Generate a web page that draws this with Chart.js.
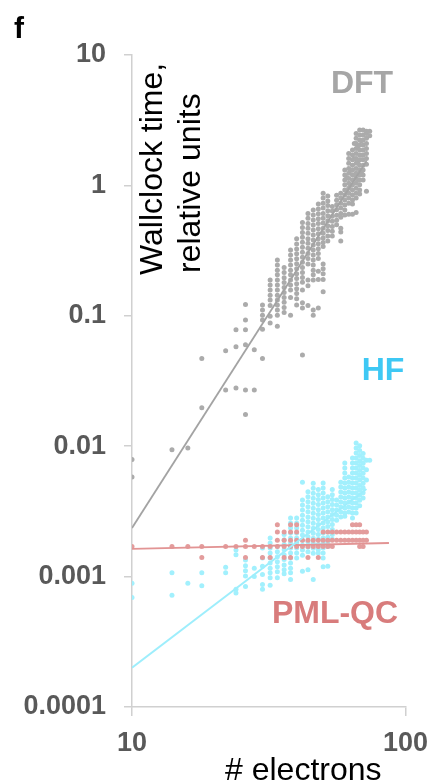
<!DOCTYPE html>
<html>
<head>
<meta charset="utf-8">
<script src="https://cdn.jsdelivr.net/npm/chart.js@4.4.1/dist/chart.umd.min.js"></script>
<style>
  html, body { margin: 0; padding: 0; background: #fff; }
  canvas { display: block; }
</style>
</head>
<body>
<canvas id="chart" width="439" height="784"></canvas>
<script>
// axis ticks
const xTicks = [10, 100]
const yTicks = [0.0001, 0.001, 0.01, 0.1, 1, 10]
const yTickLabels = ['0.0001', '0.001', '0.01', '0.1', '1', '10']

// DFT timings: [# electrons, [times...]]
const dftCols = [
  [10, [0.0079, 0.0058]],
  [14, [0.0094]],
  [16, [0.0097]],
  [18, [0.047, 0.0197]],
  [22, [0.054, 0.027]],
  [24, [0.078, 0.058, 0.028]],
  [26, [0.122, 0.093, 0.078, 0.060, 0.027, 0.0175]],
  [28, [0.055, 0.027]],
  [30, [0.121, 0.111, 0.101, 0.093, 0.079, 0.047]],
  [32, [0.188, 0.172, 0.158, 0.144, 0.132, 0.12, 0.099, 0.088]],
  [34, [0.268, 0.245, 0.224, 0.206, 0.188, 0.172, 0.158, 0.144, 0.132, 0.121, 0.111, 0.101, 0.083]],
  [36, [0.235, 0.215, 0.196, 0.18, 0.165, 0.151, 0.138, 0.127, 0.116, 0.106]],
  [38, [0.32, 0.292, 0.268, 0.245, 0.224, 0.206, 0.188, 0.172, 0.158, 0.138, 0.101]],
  [40, [0.389, 0.356, 0.326, 0.299, 0.274, 0.251, 0.23, 0.21, 0.193, 0.176, 0.161, 0.148, 0.135, 0.121]],
  [42, [0.52, 0.475, 0.435, 0.4, 0.366, 0.335, 0.307, 0.281, 0.257, 0.235, 0.215, 0.197, 0.181, 0.158, 0.126, 0.115, 0.05]],
  [44, [0.61, 0.56, 0.51, 0.47, 0.43, 0.39, 0.36, 0.33, 0.30, 0.275, 0.25, 0.188, 0.17, 0.12]],
  [46, [0.648, 0.593, 0.543, 0.497, 0.455, 0.417, 0.381, 0.349, 0.32, 0.292, 0.268, 0.245, 0.224, 0.206, 0.188, 0.111, 0.101]],
  [48, [0.72, 0.66, 0.605, 0.555, 0.51, 0.465, 0.425, 0.39, 0.357, 0.327, 0.30, 0.275, 0.22, 0.19, 0.115]],
  [50, [0.87, 0.80, 0.73, 0.67, 0.61, 0.56, 0.515, 0.47, 0.43, 0.395, 0.365, 0.34, 0.25, 0.23, 0.21, 0.19, 0.153]],
  [52, [0.83, 0.76, 0.70, 0.64, 0.585, 0.535, 0.49, 0.45, 0.41, 0.375]],
  [54, [0.69, 0.635, 0.58, 0.53, 0.485, 0.445, 0.41]],
  [56, [0.84, 0.77, 0.71, 0.65, 0.59, 0.54, 0.5]],
  [58, [0.87, 0.80, 0.73, 0.67, 0.61, 0.57, 0.47, 0.44, 0.375]],
  [60, [1.31, 1.2, 1.1, 1.01, 0.92, 0.844, 0.773, 0.707, 0.648, 0.593]],
  [61, [1.15, 0.9]],
  [62, [1.76, 1.61, 1.48, 1.35, 1.24, 1.13, 1.04, 0.95, 0.87, 0.8, 0.73, 0.6]],
  [63, [1.3, 1.0]],
  [64, [1.87, 1.71, 1.57, 1.43, 1.31, 1.2, 1.1, 1.01, 0.92, 0.844, 0.773, 0.72, 0.6]],
  [65, [2.1, 1.6, 1.2]],
  [66, [2.5, 2.3, 2.1, 1.92, 1.76, 1.61, 1.48, 1.35, 1.24, 1.13, 1.04, 0.95, 0.87, 0.8, 0.62]],
  [67, [2.0, 1.5, 1.1]],
  [68, [2.66, 2.44, 2.23, 2.04, 1.87, 1.71, 1.57, 1.43, 1.31, 1.2, 1.1, 1.01, 0.922, 0.86]],
  [69, [2.2, 1.7, 1.25]],
  [70, [2.66, 2.44, 2.23, 2.04, 1.87, 1.71, 1.57, 1.43, 1.31, 1.2, 1.1]],
  [72, [2.6, 2.5, 2.3, 2.1, 1.92, 1.76, 1.61, 1.45, 0.9]],
  [74, [2.6, 2.4]],
]

// HF timings
const hfCols = [
  [10, [0.00089, 0.00069]],
  [14, [0.00107, 0.00072]],
  [16, [0.00089]],
  [18, [0.00107, 0.00085]],
  [22, [0.00118, 0.00107]],
  [24, [0.0016, 0.00147, 0.0008, 0.00075]],
  [26, [0.00134, 0.00121, 0.00111, 0.00101, 0.00084]],
  [28, [0.00116, 0.001]],
  [30, [0.00166, 0.00139, 0.0012, 0.00104, 0.00087, 0.0008]],
  [32, [0.00198, 0.00181, 0.00166, 0.00152, 0.00139, 0.00127, 0.00116, 0.00107, 0.00098, 0.00086]],
  [34, [0.0017, 0.00155, 0.00142, 0.0013, 0.00119, 0.00109, 0.00098]],
  [36, [0.0021, 0.00192, 0.00176, 0.00161, 0.00147, 0.00135, 0.00123, 0.00113, 0.00105]],
  [38, [0.00281, 0.00258, 0.00236, 0.00216, 0.00198, 0.00181, 0.00166, 0.00152, 0.00139, 0.00127, 0.00116, 0.00107, 0.00095]],
  [40, [0.00281, 0.00258, 0.00236, 0.00216, 0.00198, 0.00181, 0.00166, 0.00152, 0.00139]],
  [42, [0.0053, 0.00386, 0.00354, 0.00324, 0.00296, 0.00271, 0.00248, 0.00227, 0.00208, 0.0019, 0.00174, 0.0016, 0.00146, 0.0011]],
  [44, [0.00448, 0.0041, 0.00375, 0.00343, 0.00314, 0.00287, 0.00263, 0.00241, 0.0022, 0.00202, 0.00185, 0.00169, 0.00155, 0.00113]],
  [46, [0.0052, 0.00476, 0.00436, 0.00399, 0.00365, 0.00334, 0.00306, 0.0028, 0.00256, 0.00235, 0.00215, 0.00197, 0.0018, 0.00165, 0.00151, 0.00095]],
  [48, [0.00465, 0.00425, 0.0039, 0.00357, 0.00326, 0.00299, 0.00274, 0.00251, 0.0023, 0.0021, 0.00193, 0.00176, 0.00161, 0.00152]],
  [50, [0.00522, 0.00478, 0.00438, 0.00401, 0.00367, 0.00336, 0.00307, 0.00281, 0.00258, 0.00236, 0.00216, 0.00198, 0.00181, 0.00166, 0.00152, 0.00139, 0.00119]],
  [52, [0.0041, 0.00375, 0.00343, 0.00314, 0.00287, 0.00263, 0.00242, 0.0022, 0.002, 0.00185, 0.0017, 0.0012]],
  [54, [0.00465, 0.00425, 0.0039, 0.00357, 0.00326, 0.00299, 0.00274, 0.00251, 0.0023, 0.0021, 0.00193]],
  [56, [0.00386, 0.00354, 0.00324, 0.00296, 0.00271]],
  [58, [0.0053, 0.00486, 0.00445, 0.00407, 0.00373, 0.00342, 0.00313, 0.00286]],
  [60, [0.00743, 0.00681, 0.00623, 0.0057, 0.00522, 0.00478, 0.00438, 0.00401, 0.00367, 0.00336, 0.00307, 0.0029]],
  [62, [0.0058, 0.0053, 0.00486, 0.00445, 0.00407, 0.00373, 0.00342, 0.00313]],
  [64, [0.00812, 0.00743, 0.00681, 0.00623, 0.0057, 0.00522, 0.00478, 0.00438, 0.00401, 0.00367, 0.00336, 0.00307, 0.00281]],
  [66, [0.0106, 0.00968, 0.00887, 0.00812, 0.00743, 0.00681, 0.00623, 0.0057, 0.00522, 0.00478, 0.00438, 0.00401, 0.00367, 0.00336, 0.00307]],
  [68, [0.0101, 0.00925, 0.0085, 0.00775, 0.0071, 0.0065, 0.006, 0.0055, 0.005, 0.0046, 0.0042, 0.00385, 0.0035]],
  [70, [0.0088, 0.0081, 0.0074, 0.0068, 0.0062, 0.0057, 0.0052, 0.0048, 0.0044, 0.004]],
  [72, [0.0078, 0.0066, 0.0055]],
  [74, [0.0078]],
]

// PML-QC timings
const pmlCols = [
  [10, [0.0017]],
  [14, [0.0017]],
  [16, [0.0017]],
  [18, [0.0017, 0.0014]],
  [22, [0.0017]],
  [24, [0.0017]],
  [26, [0.0019, 0.0017, 0.0014]],
  [28, [0.0017]],
  [30, [0.0017, 0.0014]],
  [32, [0.0017, 0.0014]],
  [34, [0.0025, 0.0022, 0.0019, 0.0017]],
  [36, [0.0022, 0.0019, 0.0017, 0.0014]],
  [38, [0.0025, 0.0022, 0.0019, 0.0017, 0.0014]],
  [40, [0.0025, 0.0022, 0.0019, 0.0017]],
  [42, [0.0019, 0.0017]],
  [44, [0.0019, 0.0017, 0.0014]],
  [46, [0.0019, 0.0017]],
  [48, [0.0019, 0.0017, 0.0014]],
  [50, [0.0022, 0.0019, 0.0017]],
  [52, [0.0022, 0.0019, 0.0017]],
  [54, [0.0022, 0.0019, 0.0017]],
  [56, [0.0022, 0.0019]],
  [58, [0.0022, 0.0019]],
  [60, [0.0022, 0.0019]],
  [62, [0.0022, 0.0019]],
  [64, [0.0025, 0.0022, 0.0019]],
  [66, [0.0025, 0.0022, 0.0019]],
  [68, [0.0025, 0.0022, 0.0019, 0.0017]],
  [70, [0.0022, 0.0019, 0.0017]],
  [72, [0.0022, 0.0019]],
]

// power-law trend lines (end points)
const dftFit = [[10, 0.00236], [72, 1.54]]
const hfFit = [[10, 0.0002], [72, 0.0047]]
const pmlFit = [[10, 0.00163], [87, 0.00181]]

const toPoints = cols => cols.flatMap(([x, ys]) => ys.map(y => ({ x, y })))
const toLine = pts => pts.map(([x, y]) => ({ x, y }))

const FONT = '"Liberation Sans", Arial, sans-serif'
Chart.defaults.font.family = FONT

const textPlugin = {
  id: 'texts',
  afterDraw(chart) {
    const c = chart.ctx
    c.save()
    c.textBaseline = 'alphabetic'

    c.fillStyle = '#000'
    c.font = 'bold 30px ' + FONT
    c.textAlign = 'left'
    c.fillText('f', 14, 38)

    // y title, rotated
    c.font = '32px ' + FONT
    c.save()
    c.translate(162, 275)
    c.rotate(-Math.PI / 2)
    c.fillText('Wallclock time,', 0, 0)
    c.restore()
    c.save()
    c.translate(200, 273)
    c.rotate(-Math.PI / 2)
    c.fillText('relative units', 0, 0)
    c.restore()

    // x title
    c.fillText('# electrons', 225, 780)

    // series names
    c.font = 'bold 32px ' + FONT
    c.textAlign = 'center'
    c.fillStyle = '#a6a6a6'
    c.fillText('DFT', 362, 93)
    c.fillStyle = '#3ec8f4'
    c.fillText('HF', 383, 380)
    c.fillStyle = '#d87c7c'
    c.fillText('PML-QC', 335, 623)
    c.restore()
  },
}

const ctx = document.getElementById('chart').getContext('2d')
new Chart(ctx, {
  type: 'scatter',
  data: {
    datasets: [
      { data: toLine(dftFit), showLine: true, pointRadius: 0, borderColor: '#a3a3a3', borderWidth: 1.8, order: 0 },
      { data: toLine(hfFit), showLine: true, pointRadius: 0, borderColor: '#9eeefc', borderWidth: 2, order: 0 },
      { data: toLine(pmlFit), showLine: true, pointRadius: 0, borderColor: '#e29494', borderWidth: 1.8, order: 0 },
      { data: toPoints(pmlCols), pointRadius: 2.5, borderWidth: 0, backgroundColor: '#e39c9c', order: 1 },
      { data: toPoints(hfCols), pointRadius: 2.5, borderWidth: 0, backgroundColor: '#a2f0fd', order: 2 },
      { data: toPoints(dftCols), pointRadius: 2.5, borderWidth: 0, backgroundColor: '#ababab', order: 3 },
    ],
  },
  options: {
    responsive: false,
    animation: false,
    events: [],
    layout: { padding: { top: 55, right: 27, left: 0, bottom: 0 } },
    plugins: {
      legend: { display: false },
      tooltip: { enabled: false },
    },
    scales: {
      x: {
        type: 'logarithmic',
        min: 10,
        max: 100,
        afterFit: s => { s.height = 77 },
        afterBuildTicks: s => { s.ticks = xTicks.map(v => ({ value: v })) },
        grid: { drawOnChartArea: false, tickLength: 9, color: '#d0d0d0', lineWidth: 1.5 },
        border: { color: '#d0d0d0', width: 1.5 },
        ticks: {
          padding: 11,
          color: '#595959',
          font: { size: 27, weight: 'bold' },
          callback: v => String(v),
          maxRotation: 0,
        },
      },
      y: {
        type: 'logarithmic',
        min: 0.0001,
        max: 10,
        afterFit: s => { s.width = 132 },
        afterBuildTicks: s => { s.ticks = yTicks.map(v => ({ value: v })) },
        grid: { drawOnChartArea: false, tickLength: 8, color: '#d0d0d0', lineWidth: 1.5 },
        border: { color: '#d0d0d0', width: 1.5 },
        ticks: {
          padding: 18,
          color: '#595959',
          font: { size: 27, weight: 'bold' },
          callback: v => yTickLabels[yTicks.indexOf(v)],
        },
      },
    },
  },
  plugins: [textPlugin],
})
</script>
</body>
</html>
